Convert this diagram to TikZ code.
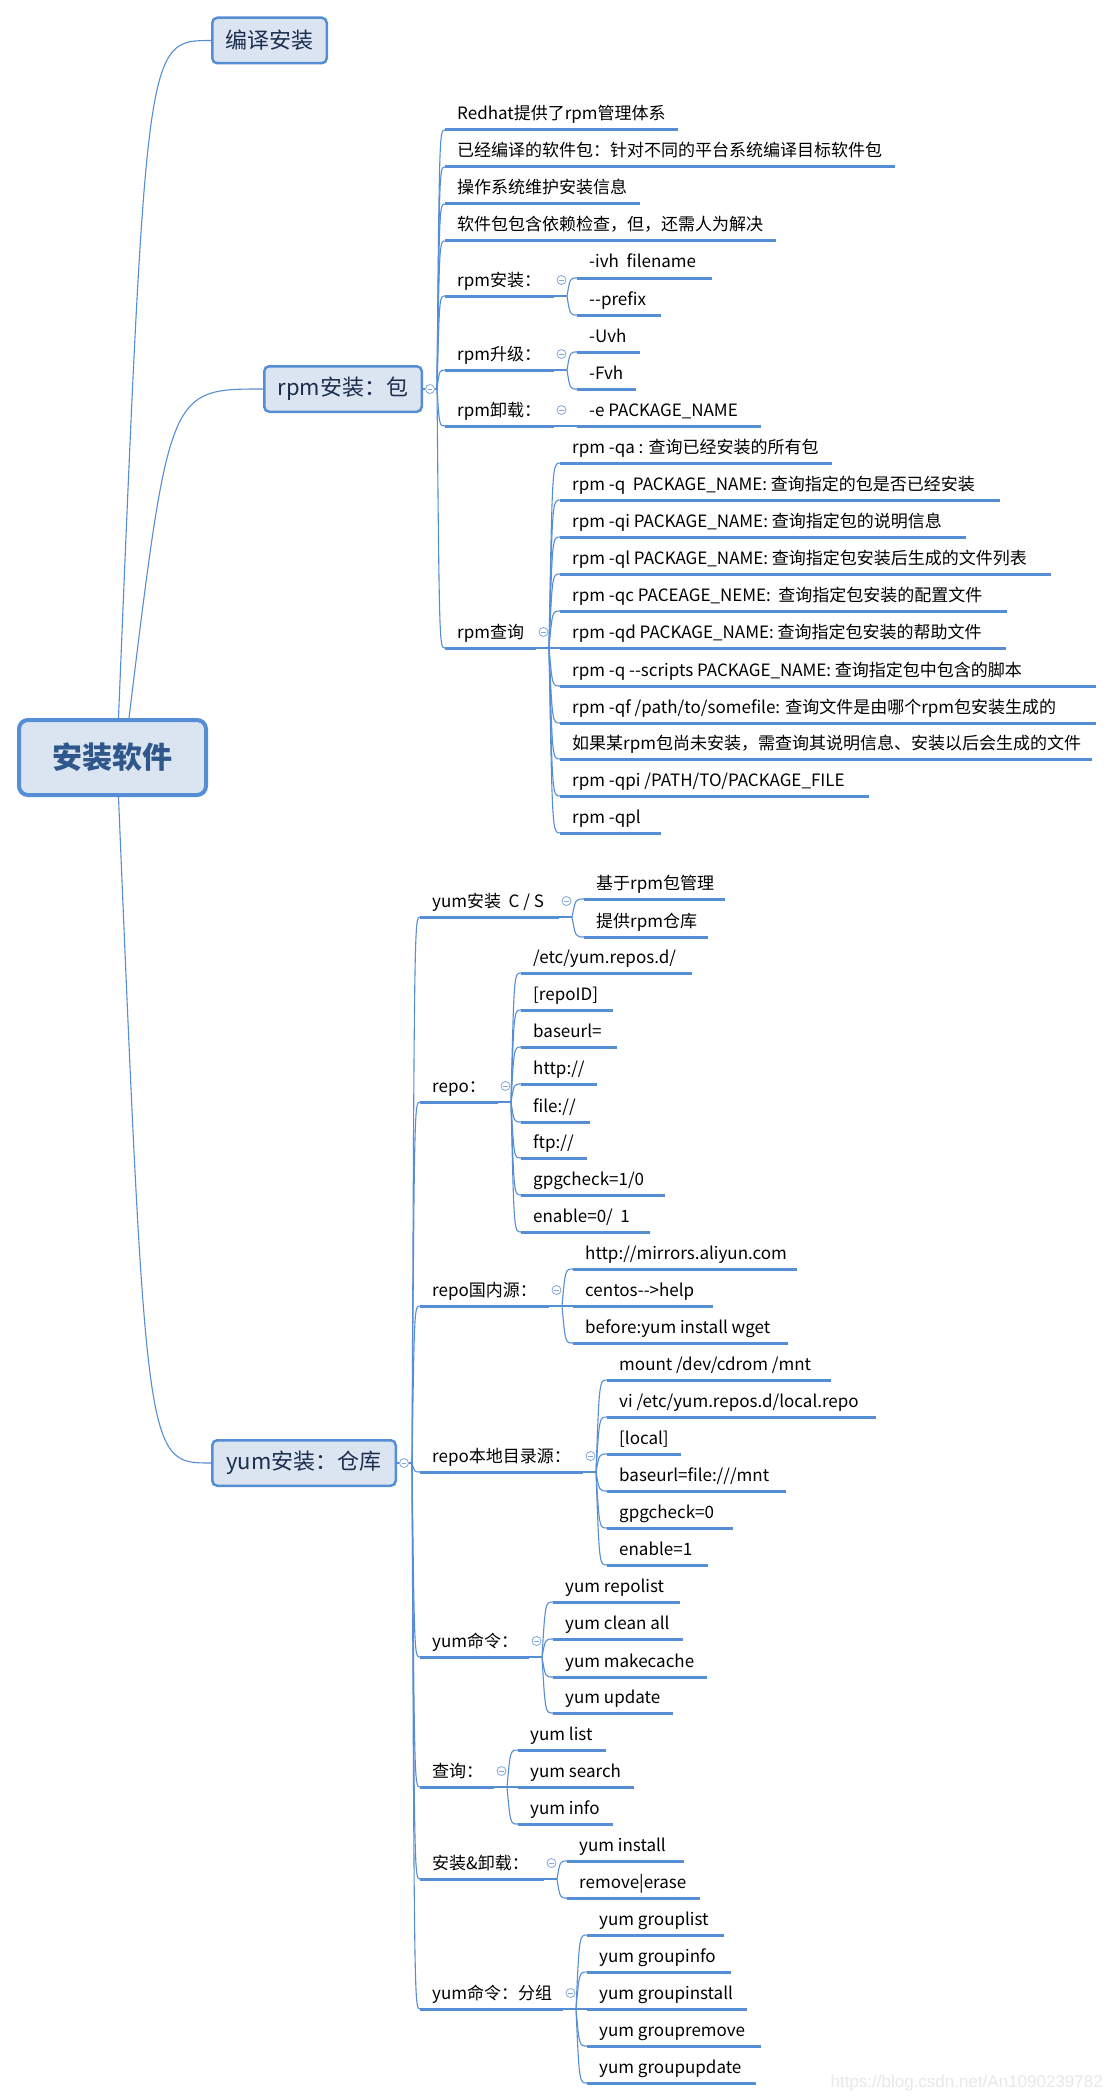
\documentclass[tikz,border=0pt]{standalone}
\usepackage{fontspec}
\usetikzlibrary{calc}
\newfontfamily\mmfont{Noto Sans CJK SC}
\newfontfamily\wmfont{Liberation Sans}
\definecolor{mmline}{RGB}{85,142,213}
\definecolor{mmfill}{RGB}{219,229,241}
\definecolor{mmtitle}{RGB}{28,45,78}
\definecolor{mmroot}{RGB}{47,87,140}
\definecolor{mmcirc}{RGB}{130,166,220}
\definecolor{mmwm}{RGB}{232,232,232}
\tikzset{
 conn/.style={draw=mmline, line width=1.1pt},
 uline/.style={draw=mmline, line width=3pt},
 leaftext/.style={anchor=base west, inner sep=0pt, font=\mmfont\fontsize{17}{20}\selectfont, text=black},
 topicbox/.style={draw=mmline, line width=2.5pt, fill=mmfill, rounded corners=5pt, inner sep=0pt, font=\mmfont\fontsize{22}{26}\selectfont, text=mmtitle},
 rootbox/.style={draw=mmline, line width=4pt, fill=mmfill, rounded corners=9pt, inner sep=0pt, font=\mmfont\bfseries\fontsize{30}{34}\selectfont, text=mmroot},
 collapse/.style={circle, draw=mmcirc, line width=0.8pt, fill=white, minimum size=9pt, inner sep=0pt,
   path picture={\draw[mmcirc, line width=0.8pt] ([xshift=-2.3pt]path picture bounding box.center) -- ([xshift=2.3pt]path picture bounding box.center);}},
}
\newcommand\mmleaf[5]{%
  \coordinate (#1) at (#2,#4);
  \coordinate (#1e) at (#3,#4);
  \draw[uline] (#1) -- (#1e);
  \node[leaftext] (#1t) at (#2+12,#4-10) {#5};
}
\newcommand\mmsub[5]{%
  \mmleaf{#1}{#2}{#3}{#4}{#5}
  \node[collapse] (#1c) at (#3+7.5,#4-16) {};
  \coordinate (#1j) at (#3+13,#4);
  \draw[conn] (#1e) -- (#1j);
}
\newcommand\mmlink[2]{\draw[conn] (#1) .. controls ($(#1 |- #2)!0.3!(#2)$) .. (#2);}
\begin{document}
\begin{tikzpicture}[x=1pt,y=-1pt]
\fill[white] (0,0) rectangle (1113,2100);
\useasboundingbox (0,0) rectangle (1113,2100);
% main boxes
\node[rootbox, minimum width=187pt, minimum height=75pt] (root) at (112.5,757.5) {安装软件};
\node[topicbox, minimum width=114.5pt, minimum height=45.5pt] (T1) at (269.5,40.5) {编译安装};
\node[topicbox, minimum width=157.5pt, minimum height=45.5pt] (T2) at (343,389) {rpm安装：包};
\node[topicbox, minimum width=183.5pt, minimum height=45.5pt] (T3) at (304,1463) {yum安装：仓库};
% root connectors
\coordinate (r1) at ([xshift=6pt]root.north);
\coordinate (r2) at ([xshift=16.5pt]root.north);
\coordinate (r3) at ([xshift=6pt]root.south);
\mmlink{r1}{T1.west}
\mmlink{r2}{T2.west}
\mmlink{r3}{T3.west}
% topic collapse circles
\node[collapse] (T2c) at (430,389) {};
\coordinate (T2j) at (437,389);
\draw[conn] (T2.east) -- (T2c.west);
\draw[conn] (T2c.east) -- (T2j);
\node[collapse] (T3c) at (404,1463) {};
\coordinate (T3j) at (412,1463);
\draw[conn] (T3.east) -- (T3c.west);
\draw[conn] (T3c.east) -- (T3j);
% rpm branch
\mmleaf{a1}{445}{678}{130}{Redhat提供了rpm管理体系}
\mmleaf{a2}{445}{895}{167}{已经编译的软件包：针对不同的平台系统编译目标软件包}
\mmleaf{a3}{445}{640}{204}{操作系统维护安装信息}
\mmleaf{a4}{445}{776}{241}{软件包包含依赖检查，但，还需人为解决}
\mmsub{a5}{445}{554}{296}{rpm安装：}
\mmsub{a6}{445}{554}{370}{rpm升级：}
\mmsub{a7}{445}{554}{426}{rpm卸载：}
\mmsub{a8}{445}{536}{648}{rpm查询}
\mmlink{T2j}{a1}\mmlink{T2j}{a2}\mmlink{T2j}{a3}\mmlink{T2j}{a4}
\mmlink{T2j}{a5}\mmlink{T2j}{a6}\mmlink{T2j}{a7}\mmlink{T2j}{a8}
\mmleaf{b1}{577}{712}{278}{-ivh\ \ filename}
\mmleaf{b2}{577}{661}{315}{-\kern0pt-prefix}
\mmleaf{b3}{577}{640}{352}{-Uvh}
\mmleaf{b4}{577}{636}{389}{-Fvh}
\mmleaf{b5}{577}{761}{426}{-e PACKAGE\_NAME}
\mmlink{a5j}{b1}\mmlink{a5j}{b2}
\mmlink{a6j}{b3}\mmlink{a6j}{b4}
\mmlink{a7j}{b5}
\mmleaf{c1}{560}{832}{463}{rpm -qa : 查询已经安装的所有包}
\mmleaf{c2}{560}{1000}{500}{rpm -q\ \ PACKAGE\_NAME: 查询指定的包是否已经安装}
\mmleaf{c3}{560}{966}{537}{rpm -qi PACKAGE\_NAME: 查询指定包的说明信息}
\mmleaf{c4}{560}{1051}{574}{rpm -ql PACKAGE\_NAME: 查询指定包安装后生成的文件列表}
\mmleaf{c5}{560}{1007}{611}{rpm -qc PACEAGE\_NEME:\ \ 查询指定包安装的配置文件}
\mmleaf{c6}{560}{1006}{648}{rpm -qd PACKAGE\_NAME: 查询指定包安装的帮助文件}
\mmleaf{c7}{560}{1096}{686}{rpm -q -\kern0pt-scripts PACKAGE\_NAME: 查询指定包中包含的脚本}
\mmleaf{c8}{560}{1096}{723}{rpm -qf /path/to/somefile: 查询文件是由哪个rpm包安装生成的}
\mmleaf{c9}{560}{1092}{759}{如果某rpm包尚未安装，需查询其说明信息、安装以后会生成的文件}
\mmleaf{c10}{560}{869}{796}{rpm -qpi /PATH/TO/PACKAGE\_FILE}
\mmleaf{c11}{560}{661}{833}{rpm -qpl}
\mmlink{a8j}{c1}\mmlink{a8j}{c2}\mmlink{a8j}{c3}\mmlink{a8j}{c4}
\mmlink{a8j}{c5}\mmlink{a8j}{c6}\mmlink{a8j}{c7}\mmlink{a8j}{c8}
\mmlink{a8j}{c9}\mmlink{a8j}{c10}\mmlink{a8j}{c11}
% yum branch
\mmsub{d1}{420}{559}{917}{yum安装\ \ C / S}
\mmsub{d2}{420}{498}{1102}{repo：}
\mmsub{d3}{420}{549}{1306}{repo国内源：}
\mmsub{d4}{420}{583}{1472}{repo本地目录源：}
\mmsub{d5}{420}{529}{1657}{yum命令：}
\mmsub{d6}{420}{494}{1787}{查询：}
\mmsub{d7}{420}{544}{1879}{安装\&卸载：}
\mmsub{d8}{420}{563}{2009}{yum命令：分组}
\mmlink{T3j}{d1}\mmlink{T3j}{d2}\mmlink{T3j}{d3}\mmlink{T3j}{d4}
\mmlink{T3j}{d5}\mmlink{T3j}{d6}\mmlink{T3j}{d7}\mmlink{T3j}{d8}
\mmleaf{e1}{584}{725}{899}{基于rpm包管理}
\mmleaf{e2}{584}{708}{937}{提供rpm仓库}
\mmlink{d1j}{e1}\mmlink{d1j}{e2}
\mmleaf{f1}{521}{692}{973}{/etc/yum.repos.d/}
\mmleaf{f2}{521}{613}{1010}{[repoID]}
\mmleaf{f3}{521}{617}{1047}{baseurl=}
\mmleaf{f4}{521}{597}{1084}{http://}
\mmleaf{f5}{521}{590}{1122}{file://}
\mmleaf{f6}{521}{587}{1158}{ftp://}
\mmleaf{f7}{521}{665}{1195}{gpgcheck=1/0}
\mmleaf{f8}{521}{650}{1232}{enable=0/\ \ 1}
\mmlink{d2j}{f1}\mmlink{d2j}{f2}\mmlink{d2j}{f3}\mmlink{d2j}{f4}
\mmlink{d2j}{f5}\mmlink{d2j}{f6}\mmlink{d2j}{f7}\mmlink{d2j}{f8}
\mmleaf{g1}{573}{797}{1269}{http://mirrors.aliyun.com}
\mmleaf{g2}{573}{713}{1306}{centos-\kern0pt->help}
\mmleaf{g3}{573}{788}{1343}{before:yum install wget}
\mmlink{d3j}{g1}\mmlink{d3j}{g2}\mmlink{d3j}{g3}
\mmleaf{h1}{607}{831}{1380}{mount /dev/cdrom /mnt}
\mmleaf{h2}{607}{876}{1417}{vi /etc/yum.repos.d/local.repo}
\mmleaf{h3}{607}{681}{1454}{[local]}
\mmleaf{h4}{607}{786}{1491}{baseurl=file:///mnt}
\mmleaf{h5}{607}{733}{1528}{gpgcheck=0}
\mmleaf{h6}{607}{708}{1565}{enable=1}
\mmlink{d4j}{h1}\mmlink{d4j}{h2}\mmlink{d4j}{h3}
\mmlink{d4j}{h4}\mmlink{d4j}{h5}\mmlink{d4j}{h6}
\mmleaf{i1}{553}{680}{1602}{yum repolist}
\mmleaf{i2}{553}{683}{1639}{yum clean all}
\mmleaf{i3}{553}{707}{1677}{yum makecache}
\mmleaf{i4}{553}{673}{1713}{yum update}
\mmlink{d5j}{i1}\mmlink{d5j}{i2}\mmlink{d5j}{i3}\mmlink{d5j}{i4}
\mmleaf{k1}{518}{606}{1750}{yum list}
\mmleaf{k2}{518}{634}{1787}{yum search}
\mmleaf{k3}{518}{613}{1824}{yum info}
\mmlink{d6j}{k1}\mmlink{d6j}{k2}\mmlink{d6j}{k3}
\mmleaf{l1}{567}{684}{1861}{yum install}
\mmleaf{l2}{567}{700}{1898}{remove|erase}
\mmlink{d7j}{l1}\mmlink{d7j}{l2}
\mmleaf{m1}{587}{724}{1935}{yum grouplist}
\mmleaf{m2}{587}{731}{1972}{yum groupinfo}
\mmleaf{m3}{587}{747}{2009}{yum groupinstall}
\mmleaf{m4}{587}{761}{2046}{yum groupremove}
\mmleaf{m5}{587}{756}{2083}{yum groupupdate}
\mmlink{d8j}{m1}\mmlink{d8j}{m2}\mmlink{d8j}{m3}\mmlink{d8j}{m4}\mmlink{d8j}{m5}
% watermark
\node[anchor=base east, inner sep=0pt, font=\wmfont\fontsize{17}{20}\selectfont, text=mmwm] (wm) at (1103,2087) {https://blog.csdn.net/An1090239782};
\end{tikzpicture}
\end{document}
